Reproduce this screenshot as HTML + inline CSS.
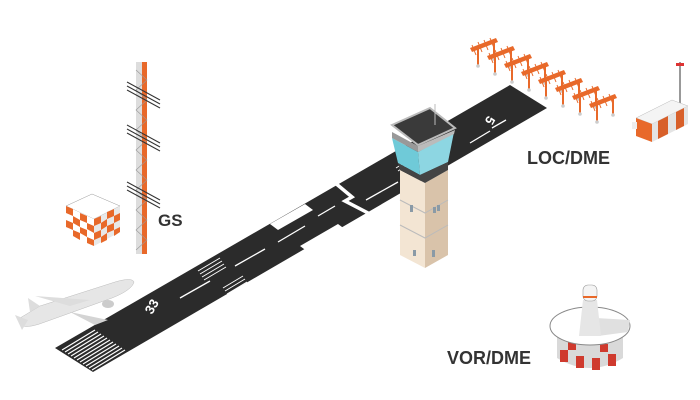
<!DOCTYPE html>
<html><head><meta charset="utf-8"><style>
html,body{margin:0;padding:0;background:#fff;}
svg{display:block}
text{font-family:"Liberation Sans",sans-serif;font-weight:bold;fill:#333;}
</style></head><body>
<svg width="700" height="400" viewBox="0 0 700 400" xmlns="http://www.w3.org/2000/svg">
<!-- runway -->
<polygon points="55,348 510,85 547,108 93,372" fill="#2b2b2b"/>
<!-- break -->
<polyline points="334,182 352,197 345,201 370,214" fill="none" stroke="#fff" stroke-width="3.5"/>
<!-- threshold stripes -->
<g stroke="#fff" stroke-width="1.2">
<line x1="62" y1="350" x2="95" y2="330"/><line x1="65" y1="352" x2="98" y2="332"/>
<line x1="68" y1="354" x2="101" y2="334"/><line x1="71" y1="356" x2="104" y2="336"/>
<line x1="74" y1="358" x2="107" y2="338"/><line x1="77" y1="360" x2="110" y2="340"/>
<line x1="80" y1="362" x2="113" y2="342"/><line x1="83" y1="364" x2="116" y2="344"/>
<line x1="86" y1="366" x2="119" y2="346"/><line x1="89" y1="368" x2="122" y2="348"/>
<line x1="92" y1="370" x2="125" y2="350"/>
</g>
<!-- centerline -->
<g stroke="#fff" stroke-width="1.3">
<line x1="180" y1="298" x2="210" y2="281"/>
<line x1="235" y1="266" x2="265" y2="249"/>
<line x1="278" y1="242" x2="305" y2="226"/>
<line x1="318" y1="216" x2="335" y2="206"/>
<line x1="366" y1="200" x2="398" y2="182"/>
<line x1="470" y1="143" x2="490" y2="131"/>
</g>
<!-- touchdown bars -->
<g stroke="#fff" stroke-width="1">
<line x1="198" y1="271" x2="220" y2="258"/><line x1="200" y1="274" x2="222" y2="261"/><line x1="202" y1="277" x2="224" y2="264"/><line x1="204" y1="280" x2="226" y2="267"/>
<line x1="223" y1="288" x2="243" y2="276"/><line x1="225" y1="291" x2="245" y2="279"/><line x1="227" y1="294" x2="247" y2="282"/><line x1="229" y1="297" x2="249" y2="285"/>
<line x1="396" y1="168" x2="412" y2="158"/><line x1="398" y1="171" x2="414" y2="161"/>
</g>
<polygon points="270,224 305,204 313,210 278,230" fill="#fff"/>
<polygon points="300,246 338,224 346,230 308,252" fill="#fff"/>
<text x="0" y="0" font-size="13" style="fill:#fff" transform="translate(152,315) rotate(-60)">33</text>
<text x="0" y="0" font-size="13" style="fill:#fff" transform="translate(488,115) rotate(120)">5</text>
<line x1="492" y1="128" x2="506" y2="120" stroke="#fff" stroke-width="1.3"/>
<!-- tower -->
<polygon points="400,170 425,183 425,268 400,255" fill="#f3e5d3"/>
<polygon points="425,183 448,170 448,255 425,268" fill="#d9c3aa"/>
<g stroke="#bbb" stroke-width="1" fill="none">
<polyline points="400,200 425,213 448,200"/><polyline points="400,225 425,238 448,225"/>
</g>
<rect x="410" y="205" width="3" height="7" fill="#8a9aa6"/><rect x="433" y="207" width="3" height="6" fill="#8a9aa6"/><rect x="437" y="205" width="3" height="6" fill="#8a9aa6"/>
<rect x="413" y="250" width="3" height="6" fill="#8a9aa6"/><rect x="432" y="250" width="3" height="7" fill="#8a9aa6"/>
<polygon points="392,138 418,152 420,175 398,163" fill="#6fcad8"/>
<polygon points="418,152 454,132 448,162 420,175" fill="#8dd6e2"/>
<polygon points="398,163 420,175 448,162 448,170 425,183 400,170" fill="#444"/>
<polygon points="392,125 430,108 455,128 418,145" fill="#3a3a3a" stroke="#bbb" stroke-width="2"/>
<polygon points="392,132 418,146 418,152 392,138" fill="#999"/>
<polygon points="418,146 455,130 454,134 418,152" fill="#bbb"/>
<line x1="435" y1="104" x2="435" y2="125" stroke="#bbb" stroke-width="1"/>
<!-- GS cube -->
<polygon points="66,206 92,194 120,206 94,219" fill="#fff" stroke="#999" stroke-width="0.5"/>
<polygon points="66,206 94,219 94,246 66,232" fill="#fff"/>
<polygon points="94,219 120,206 120,232 94,246" fill="#e8e8e8"/>
<g fill="#e8692a">
<polygon points="66,206 73,209 73,216 66,213"/><polygon points="80,213 87,216 87,223 80,220"/>
<polygon points="73,216 80,220 80,227 73,223"/><polygon points="87,223 94,226 94,233 87,229"/>
<polygon points="66,220 73,223 73,230 66,227"/><polygon points="80,227 87,230 87,237 80,233"/>
<polygon points="73,230 80,233 80,240 73,236"/><polygon points="87,237 94,240 94,246 87,243"/>
<polygon points="94,219 101,216 101,223 94,226"/><polygon points="107,212 114,209 114,216 107,219"/>
<polygon points="101,223 107,219 107,226 101,230"/><polygon points="114,216 120,213 120,220 114,223"/>
<polygon points="94,233 101,230 101,237 94,240"/><polygon points="107,226 114,223 114,230 107,233"/>
<polygon points="101,237 107,233 107,240 101,243"/><polygon points="114,230 120,227 120,232 114,236"/>
</g>
<!-- mast -->
<rect x="136" y="62" width="6" height="192" fill="#ddd"/>
<rect x="142" y="62" width="5" height="192" fill="#e8692a"/>
<g stroke="#999" stroke-width="0.6">
<path d="M136 70 L147 80 L136 90 L147 100 L136 110 L147 120 L136 130 L147 140 L136 150 L147 160 L136 170 L147 180 L136 190 L147 200 L136 210 L147 220 L136 230 L147 240 L136 250" fill="none"/>
</g>
<g stroke="#333" stroke-width="1">
<line x1="127" y1="82" x2="160" y2="100"/><line x1="127" y1="86" x2="160" y2="104"/><line x1="127" y1="90" x2="160" y2="108"/>
<line x1="127" y1="125" x2="160" y2="143"/><line x1="127" y1="129" x2="160" y2="147"/><line x1="127" y1="133" x2="160" y2="151"/>
<line x1="127" y1="182" x2="160" y2="200"/><line x1="127" y1="186" x2="160" y2="204"/><line x1="127" y1="190" x2="160" y2="208"/>
</g>
<text x="158" y="226" font-size="17">GS</text>
<!-- plane -->
<path d="M20 318 L40 306 L115 282 Q132 277 134 282 Q132 290 112 298 L45 322 Q30 328 22 326 Z" fill="#e6e6e6" stroke="#bbb" stroke-width="0.5"/>
<polygon points="28,298 40,306 30,312" fill="#ddd"/>
<polygon points="35,296 90,300 70,306" fill="#ddd"/>
<polygon points="70,312 108,320 95,325" fill="#d4d4d4"/>
<ellipse cx="108" cy="304" rx="6" ry="4" fill="#ccc"/>
<polygon points="15,315 28,320 22,330" fill="#ddd"/>
<!-- antenna array -->
<g id="ant">
<polygon points="470,48 496,38 498,42 472,52" fill="#e8692a"/>
<line x1="478" y1="49" x2="478" y2="65" stroke="#e8692a" stroke-width="2"/>
<line x1="494" y1="43" x2="494" y2="58" stroke="#e8692a" stroke-width="2"/>
<g stroke="#e8692a" stroke-width="1"><line x1="472" y1="45" x2="476" y2="55"/><line x1="478" y1="42" x2="482" y2="52"/><line x1="484" y1="40" x2="488" y2="50"/><line x1="490" y1="38" x2="494" y2="48"/></g>
<circle cx="478" cy="66" r="1.8" fill="#ccc"/><circle cx="494" cy="59" r="1.8" fill="#ccc"/>
</g>
<use href="#ant" transform="translate(17,8)"/><use href="#ant" transform="translate(34,16)"/><use href="#ant" transform="translate(51,24)"/>
<use href="#ant" transform="translate(68,32)"/><use href="#ant" transform="translate(85,40)"/><use href="#ant" transform="translate(102,48)"/><use href="#ant" transform="translate(119,56)"/>
<!-- shelter -->
<line x1="680" y1="62" x2="680" y2="105" stroke="#999" stroke-width="2"/>
<rect x="676" y="63" width="8" height="3" fill="#d33"/>
<polygon points="636,118 672,100 688,106 652,124" fill="#f4f4f4" stroke="#bbb" stroke-width="0.5"/>
<polygon points="636,118 652,124 652,142 636,136" fill="#e8692a"/>
<rect x="632" y="122" width="5" height="7" fill="#eee"/>
<polygon points="652,124 688,106 688,124 652,142" fill="#e4e4e4"/>
<polygon points="658,121 668,116 668,134 658,139" fill="#d8602a"/>
<polygon points="676,112 684,108 684,126 676,130" fill="#d8602a"/>
<text x="527" y="164" font-size="18">LOC/DME</text>
<!-- VOR -->
<path d="M557 336 L557 358 Q590 378 623 358 L623 336 Z" fill="#d9d9d9"/>
<g fill="#cf3a2e"><rect x="560" y="350" width="8" height="12"/><rect x="576" y="356" width="8" height="12"/><rect x="592" y="358" width="8" height="12"/><rect x="608" y="354" width="8" height="12"/><rect x="568" y="342" width="8" height="8"/><rect x="600" y="344" width="8" height="8"/></g>
<ellipse cx="590" cy="326" rx="40" ry="19" fill="#fff" stroke="#888" stroke-width="1"/>
<polygon points="596,318 630,320 628,332 598,336" fill="#e0e0e0"/>
<polygon points="583,300 597,300 601,336 579,336" fill="#e6e6e6"/>
<rect x="583" y="285" width="14" height="16" rx="5" fill="#f4f4f4" stroke="#999" stroke-width="0.6"/>
<line x1="583" y1="297" x2="597" y2="297" stroke="#e8692a" stroke-width="2"/>
<text x="447" y="364" font-size="18">VOR/DME</text>
</svg>
</body></html>
